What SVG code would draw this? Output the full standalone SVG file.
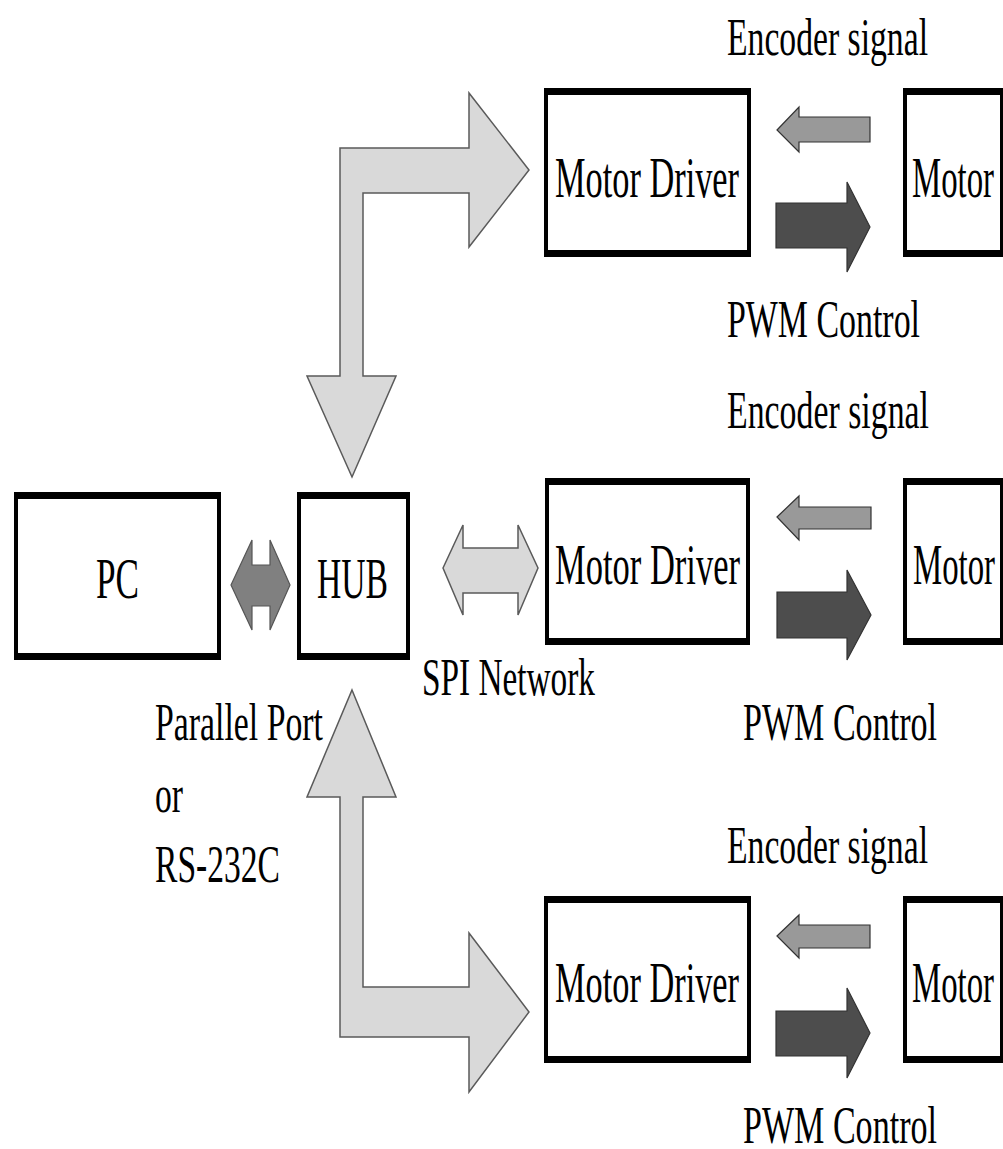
<svg xmlns="http://www.w3.org/2000/svg" width="1003" height="1149" viewBox="0 0 1003 1149">
<style>
.box{fill:#fff;stroke:#000;stroke-width:4}
.hedge{fill:none;stroke:#000;stroke-width:7}
.lbl{font-family:"Liberation Serif","Times New Roman",serif;fill:#000;font-size:52px}
.big{font-size:58px}
.bus{fill:#d9d9d9;stroke:#5a5a5a;stroke-width:1.5;stroke-linejoin:miter}
.enc{fill:#999;stroke:#333;stroke-width:1.2}
.pwm{fill:#4d4d4d;stroke:#333;stroke-width:1.2}
.par{fill:#808080;stroke:#555;stroke-width:1.2}
</style>
<rect width="1003" height="1149" fill="#fff"/>

<g id="connectors">
  <polygon id="bus-top" class="bus" points="352,477 396,376 363,376 363,193 469,193 469,247 529,170 469,93 469,148 340,148 340,376 307,376"/>
  <polygon id="bus-bottom" class="bus" points="352,690 396,797 363,797 363,987 469,987 469,933 529,1012 469,1092 469,1037 340,1037 340,797 307,797"/>
  <polygon id="spi" class="bus" points="443,568 463,525 463,548 518,548 518,525 538,568 518,615 518,593 463,593 463,615"/>
  <polygon id="pc-hub" class="par" points="231,585 252,540 252,565 270,565 270,540 290,585 270,630 270,606 252,606 252,630"/>
  <polygon id="enc1" class="enc" points="777,130 799,107 799,117 870,117 870,142 799,142 799,152"/>
  <polygon id="pwm1" class="pwm" points="776,203 847,203 847,182 870,227 847,272 847,248 776,248"/>
  <polygon id="enc2" class="enc" points="777,517 799,496 799,507 871,507 871,529 799,529 799,540"/>
  <polygon id="pwm2" class="pwm" points="777,592 847,592 847,570 871,615 847,660 847,638 777,638"/>
  <polygon id="enc3" class="enc" points="777,936 799,915 799,925 870,925 870,948 799,948 799,958"/>
  <polygon id="pwm3" class="pwm" points="776,1011 847,1011 847,988 870,1033 847,1078 847,1056 776,1056"/>
</g>

<g id="pc">
  <rect class="box" x="16" y="495" width="203" height="162"/>
  <path class="hedge" d="M14 495.5H221M14 656.5H221"/>
  <text class="lbl big" x="96" y="598" textLength="43" lengthAdjust="spacingAndGlyphs">PC</text>
</g>
<g id="hub">
  <rect class="box" x="299" y="495" width="109" height="162"/>
  <path class="hedge" d="M297 495.5H410M297 656.5H410"/>
  <text class="lbl big" x="317" y="598" textLength="71" lengthAdjust="spacingAndGlyphs">HUB</text>
</g>

<g id="driver1">
  <rect class="box" x="546" y="91" width="203" height="163"/>
  <path class="hedge" d="M544 91.5H751M544 253.5H751"/>
  <text class="lbl big" x="555" y="197" textLength="184" lengthAdjust="spacingAndGlyphs">Motor Driver</text>
</g>
<g id="motor1">
  <rect class="box" x="905" y="91" width="97" height="163"/>
  <path class="hedge" d="M903 91.5H1003M903 253.5H1003"/>
  <text class="lbl big" x="912" y="197" textLength="82" lengthAdjust="spacingAndGlyphs">Motor</text>
</g>
<g id="driver2">
  <rect class="box" x="547" y="481" width="201" height="161"/>
  <path class="hedge" d="M545 481.5H750M545 641.5H750"/>
  <text class="lbl big" x="555" y="584" textLength="185" lengthAdjust="spacingAndGlyphs">Motor Driver</text>
</g>
<g id="motor2">
  <rect class="box" x="905" y="481" width="97" height="161"/>
  <path class="hedge" d="M903 481.5H1003M903 641.5H1003"/>
  <text class="lbl big" x="913" y="584" textLength="82" lengthAdjust="spacingAndGlyphs">Motor</text>
</g>
<g id="driver3">
  <rect class="box" x="546" y="899" width="203" height="161"/>
  <path class="hedge" d="M544 899.5H751M544 1059.5H751"/>
  <text class="lbl big" x="555" y="1002" textLength="184" lengthAdjust="spacingAndGlyphs">Motor Driver</text>
</g>
<g id="motor3">
  <rect class="box" x="905" y="899" width="97" height="161"/>
  <path class="hedge" d="M903 899.5H1003M903 1059.5H1003"/>
  <text class="lbl big" x="912" y="1002" textLength="82" lengthAdjust="spacingAndGlyphs">Motor</text>
</g>

<g id="labels">
  <text class="lbl" x="727" y="55" textLength="201" lengthAdjust="spacingAndGlyphs">Encoder signal</text>
  <text class="lbl" x="727" y="337" textLength="193" lengthAdjust="spacingAndGlyphs">PWM Control</text>
  <text class="lbl" x="727" y="428" textLength="202" lengthAdjust="spacingAndGlyphs">Encoder signal</text>
  <text class="lbl" x="743" y="740" textLength="194" lengthAdjust="spacingAndGlyphs">PWM Control</text>
  <text class="lbl" x="727" y="863" textLength="201" lengthAdjust="spacingAndGlyphs">Encoder signal</text>
  <text class="lbl" x="743" y="1143" textLength="194" lengthAdjust="spacingAndGlyphs">PWM Control</text>
  <text class="lbl" x="422" y="695" textLength="173" lengthAdjust="spacingAndGlyphs">SPI Network</text>
  <text class="lbl" x="155" y="740" textLength="168" lengthAdjust="spacingAndGlyphs">Parallel Port</text>
  <text class="lbl" x="155" y="812" textLength="28" lengthAdjust="spacingAndGlyphs">or</text>
  <text class="lbl" x="155" y="882" textLength="125" lengthAdjust="spacingAndGlyphs">RS-232C</text>
</g>
</svg>
